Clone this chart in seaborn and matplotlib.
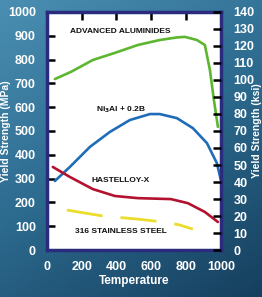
import numpy as np
import pandas as pd
import matplotlib.pyplot as plt
import seaborn as sns

# ---- data ----
temp_alum = [46, 138, 264, 391, 523, 649, 750, 793, 862, 908, 937, 960, 983]
mpa_alum = [718, 748, 798, 828, 861, 882, 893, 895, 882, 861, 756, 630, 517]

temp_ni3al = [46, 132, 247, 362, 477, 592, 649, 747, 839, 920, 977, 1000]
mpa_ni3al = [290, 349, 433, 496, 546, 571, 571, 554, 512, 449, 365, 294]

temp_hast = [34, 132, 264, 391, 523, 713, 810, 908, 983]
mpa_hast = [349, 307, 256, 227, 218, 214, 197, 160, 118]

temp_ss = [115, 322, 523, 667, 760, 839]
mpa_ss = [168, 143, 130, 118, 106, 88]

x_ticks = [0, 200, 400, 600, 800, 1000]
mpa_ticks = list(range(0, 1001, 100))
ksi_ticks = list(range(0, 141, 10))

labels = ["ADVANCED ALUMINIDES", "Ni$_3$Al + 0.2B", "HASTELLOY-X", "316 STAINLESS STEEL"]
label_pos = [(420, 916), (425, 588), (425, 294), (425, 80)]

sns.set_style("white")
plt.rcParams['font.family'] = ['Liberation Sans Narrow', 'Liberation Sans', 'DejaVu Sans']
plt.rcParams['font.weight'] = 'bold'

fig = plt.figure(figsize=(2.62, 2.97), dpi=100)

# background gradient
bg = fig.add_axes([0, 0, 1, 1])
yy, xx = np.mgrid[0:1:200j, 0:1:200j]
grad = 0.65 * yy + 0.35 * xx
bg.imshow(grad, cmap=sns.blend_palette(["#4a8fb3", "#2c6a8e", "#163f5e"], as_cmap=True),
          aspect='auto', extent=[0, 1, 0, 1])
bg.axis('off')

ax = fig.add_axes([0.179, 0.158, 0.664, 0.802])
ax.set_facecolor('white')

df = pd.concat([
    pd.DataFrame({'T': temp_alum, 'MPa': mpa_alum, 'alloy': 'alum'}),
    pd.DataFrame({'T': temp_ni3al, 'MPa': mpa_ni3al, 'alloy': 'ni3al'}),
    pd.DataFrame({'T': temp_hast, 'MPa': mpa_hast, 'alloy': 'hast'}),
])
sns.lineplot(data=df, x='T', y='MPa', hue='alloy', sort=False, ax=ax, legend=False,
             palette={'alum': '#5cb630', 'ni3al': '#1f6db8', 'hast': '#b3122e'}, linewidth=1.9)
sns.lineplot(x=temp_ss, y=mpa_ss, sort=False, ax=ax, color='#ecdc2c', linewidth=2.0)
ax.lines[-1].set_dashes((13, 6.5))

for txt, (tx, ty) in zip(labels, label_pos):
    ax.text(tx, ty, txt, ha='center', va='center', fontsize=6, fontweight='bold', color='#111111')

ax.set_xlim(0, 1000)
ax.set_ylim(0, 1000)
ax.set_xticks(x_ticks)
ax.set_yticks(mpa_ticks)
ax.set_xlabel('Temperature', color='white', fontsize=8.5, fontweight='bold', labelpad=1)
ax.set_ylabel('Yield Strength (MPa)', color='white', fontsize=7.5, fontweight='bold')
ax.yaxis.set_label_coords(-0.205, 0.5)
ax.tick_params(axis='both', direction='in', length=6, width=1.8, color='black',
               labelcolor='white', labelsize=9, pad=8, top=True)
for s in ax.spines.values():
    s.set_color('#2b2b7d')
    s.set_linewidth(2.5)

ax2 = ax.twinx()
ax2.set_ylim(0, 140)
ax2.set_yticks(ksi_ticks)
ax2.tick_params(axis='y', direction='in', length=6, width=1.8, color='black',
                labelcolor='white', labelsize=9, pad=9)
ax2.set_ylabel('Yield Strength (ksi)', color='white', fontsize=7.5, fontweight='bold',
               rotation=90)
ax2.yaxis.set_label_coords(1.18, 0.5)
for s in ax2.spines.values():
    s.set_visible(False)

fig.savefig('out.png', dpi=100)
